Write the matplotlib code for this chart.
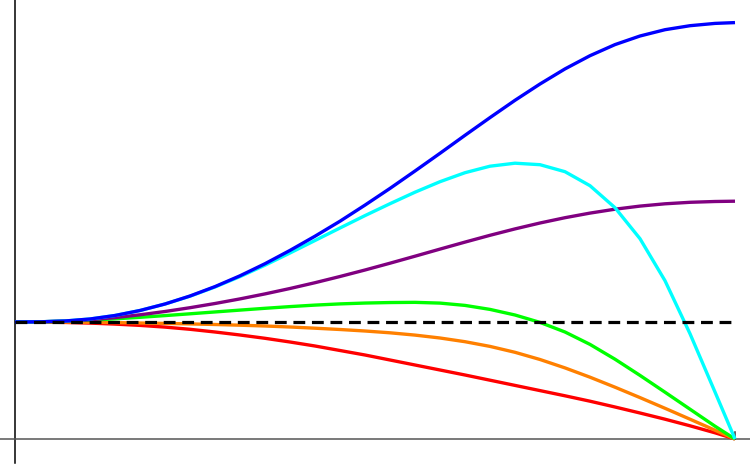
import matplotlib.pyplot as plt
import numpy as np

# horizontal position (0..720) and height above the dashed baseline,
# both in the picture's own units
x = np.array(list(range(0, 701, 25)) + [720])

blue = [0, 0.2, 1.0, 3.0, 6.5, 11.5, 18.0, 26.0, 35.4, 46.2, 58.3, 71.6,
        85.8, 100.8, 116.9, 133.6, 151.0, 168.7, 186.7, 204.4, 221.7, 238.0,
        253.1, 266.3, 277.4, 286.0, 292.3, 296.3, 298.6, 299.4]
cyan = [0, 0.2, 1.0, 3.0, 6.5, 11.5, 18.0, 25.8, 35.0, 45.4, 56.8, 69.0,
        81.5, 94.0, 106.4, 118.3, 129.8, 140.3, 149.3, 155.8, 158.8, 157.3,
        150.3, 136.3, 114.3, 83.3, 41.3, -11.7, -70, -117]
purple = [0, 0.2, 0.8, 2.2, 4.4, 7.2, 10.5, 14.3, 18.5, 23.1, 28.1, 33.5,
          39.3, 45.5, 52.0, 58.8, 65.8, 72.9, 79.9, 86.7, 93.1, 99.0, 104.3,
          108.9, 112.8, 115.9, 118.2, 119.7, 120.5, 120.8]
green = [0, 0.2, 0.8, 1.8, 3.15, 4.7, 6.4, 8.2, 10.05, 11.9, 13.7, 15.4,
         16.9, 18.1, 18.95, 19.45, 19.65, 18.9, 16.6, 12.6, 7.0, -0.4, -10.0,
         -22.4, -37.2, -53.4, -70.2, -87.2, -104.2, -117]
orange = [0, 0, -0.1, -0.3, -0.6, -1, -1.4, -1.9, -2.5, -3.2, -4, -5, -6.2,
          -7.5, -9, -10.8, -13.1, -16.0, -19.7, -24.4, -30.3, -37.5, -45.9,
          -55.2, -65.2, -75.6, -86.3, -97.2, -108.2, -117]
red = [0, -0.1, -0.45, -1.1, -2.1, -3.4, -5.1, -7.3, -10, -13, -16.3, -20,
       -24, -28.5, -33, -38, -43, -48, -53, -58.2, -63.4, -68.6, -73.8,
       -79.2, -85, -91, -97.2, -103.8, -110.8, -117]

series = [(red, '#FF0000'), (orange, '#FF8000'), (green, '#00FF00'),
          (purple, '#800080'), (cyan, '#00FFFF'), (blue, '#0000FF')]

fig = plt.figure(figsize=(7.5, 4.69), dpi=100)
ax = fig.add_axes([0, 0, 1, 1])
ax.set_xlim(-15, 735)
ax.set_ylim(-147, 322)
ax.axis('off')

# axes drawn by hand, crossing like the original
ax.plot([0, 0], [322, -141], color='black', lw=1.1, zorder=1)
ax.plot([-15, 735], [-117, -117], color='#555555', lw=1.1, zorder=1)
ax.plot([720, 720], [-117, -110], color='#333333', lw=1.1, zorder=1)

for ys, c in series:
    ax.plot(x, ys, color=c, lw=2.4, solid_capstyle='butt',
            solid_joinstyle='round', zorder=2)

ax.plot([0, 720], [0, 0], color='black', lw=2.3, dashes=(3.7, 2.1), zorder=3)

fig.savefig('out.png', dpi=100)
